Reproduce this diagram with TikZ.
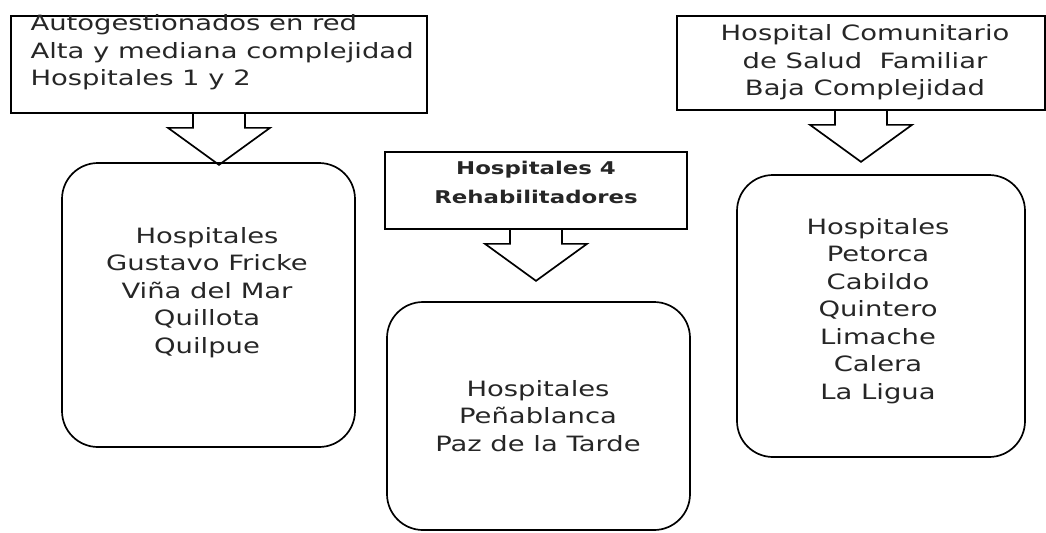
\documentclass[tikz,border=0pt]{standalone}
\usepackage{fontspec}
\setmainfont{DejaVu Sans}[FakeStretch=1.3]
\usetikzlibrary{calc}

% flecha de bloque hacia abajo desde el borde inferior de una caja
\newcommand{\bajada}[1]{%
  \draw[flecha] ($(#1.south)+(-0.65,0)$) -- ++(0,-0.35) -- ++(-0.625,0)
    -- ++(1.275,-0.925) -- ++(1.275,0.925) -- ++(-0.625,0) -- ++(0,0.35);}

\begin{document}
\begin{tikzpicture}[x=1cm,y=1cm, line width=1.2pt,
  caja/.style={draw, rectangle},
  redondo/.style={draw, rounded corners=0.9cm},
  texto/.style={text=black!85, align=center, font=\fontsize{15}{19.6}\selectfont},
  flecha/.style={draw, line join=miter}]
\useasboundingbox (0,0) rectangle (26.15,-13.3);

\node[caja, minimum width=10.4cm, minimum height=2.425cm] (auto) at (5.475,-1.6125) {};
\node[texto, anchor=west, align=left] (autoT) at (0.625,-1.3125) {Autogestionados en red\\Alta y mediana complejidad\\Hospitales 1 y 2};
\node[redondo, minimum width=7.325cm, minimum height=7.1cm] (altos) at (5.2125,-7.625) {};
\node[texto] (altosT) at (5.175,-7.3125) {Hospitales\\Gustavo Fricke\\Viña del Mar\\Quillota\\Quilpue};

\node[caja, minimum width=7.55cm, minimum height=1.925cm] (rehab) at (13.4,-4.7625) {};
\node[texto, font=\fontsize{12.5}{20.6}\selectfont\bfseries] (rehabT) at (13.4,-4.5625) {Hospitales 4\\Rehabilitadores};
\node[redondo, minimum width=7.575cm, minimum height=5.7cm] (rehabH) at (13.4625,-10.4) {};
\node[texto] (rehabHT) at (13.45,-10.4) {Hospitales\\Peñablanca\\Paz de la Tarde};

\node[caja, minimum width=9.2cm, minimum height=2.35cm] (comun) at (21.525,-1.575) {};
\node[texto] (comunT) at (21.625,-1.5625) {Hospital Comunitario\\de Salud~~Familiar\\Baja Complejidad};
\node[redondo, minimum width=7.2cm, minimum height=7.05cm] (comunH) at (22.025,-7.9) {};
\node[texto] (comunHT) at (21.95,-7.775) {Hospitales\\Petorca\\Cabildo\\Quintero\\Limache\\Calera\\La Ligua};

\bajada{auto}
\bajada{rehab}
\bajada{comun}
\end{tikzpicture}
\end{document}
